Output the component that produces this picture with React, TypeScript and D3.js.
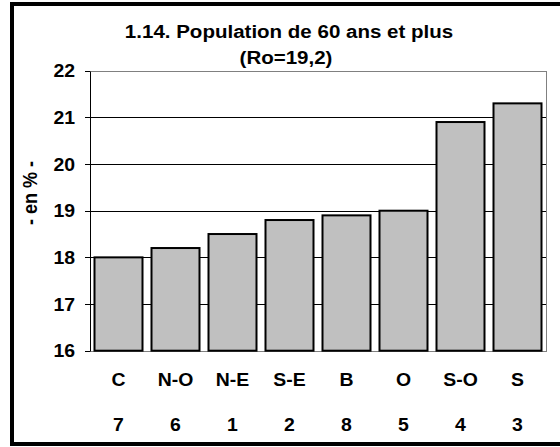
import React from "react";
import * as d3 from "d3";

const categories = ["C", "N-O", "N-E", "S-E", "B", "O", "S-O", "S"];
const ranks = ["7", "6", "1", "2", "8", "5", "4", "3"];
const values = [18.0, 18.2, 18.5, 18.8, 18.9, 19.0, 20.9, 21.3];
const yTicks = [16, 17, 18, 19, 20, 21, 22];
const titleLine1 = "1.14. Population de 60 ans et plus";
const titleLine2 = "(Ro=19,2)";
const yTitle = "- en % -";

const font = "'Liberation Sans', Arial, sans-serif";
const SX = 1.08;

function T({ x, y, anchor = "middle", size = 18, rotate = 0, children }: any) {
  return (
    <g transform={`translate(${x},${y}) scale(${SX},1)${rotate ? ` rotate(${rotate})` : ""}`}>
      <text x={0} y={0} textAnchor={anchor} fontFamily={font} fontWeight="bold" fontSize={size} fill="#000">{children}</text>
    </g>
  );
}

export default function App() {
  const W = 560, H = 447;
  const left = 90, right = 546, top = 70.7, bottom = 350.7;
  const x = d3.scaleBand<string>().domain(categories).range([left, right]).paddingInner(9 / 57).paddingOuter(4.5 / 57);
  const y = d3.scaleLinear().domain([16, 22]).range([bottom, top]);
  const py = (v: number) => Math.round(y(v)) + 0.5;
  return (
    <svg width={W} height={H} style={{ position: "absolute", left: 0, top: 0, background: "#fff" }}>
      <rect x={0} y={0} width={W} height={H} fill="#fff" />
      <rect x={12} y={4} width={W + 20} height={440} fill="none" stroke="#000" strokeWidth={4} />
      <T x={289} y={38} size={19}>{titleLine1}</T>
      <T x={286} y={64} size={19}>{titleLine2}</T>
      {/* grid */}
      {yTicks.filter(t => t > 16 && t < 22).map(t => (
        <line key={t} x1={left} x2={right} y1={py(t)} y2={py(t)} stroke="#000" strokeWidth={1} />
      ))}
      {/* plot border */}
      <rect x={left + 0.5} y={py(22)} width={right - left} height={py(16) - py(22)} fill="none" stroke="#808080" strokeWidth={1} />
      {/* y axis */}
      <line x1={left + 0.5} x2={left + 0.5} y1={py(22)} y2={py(16)} stroke="#000" strokeWidth={1} />
      {yTicks.map(t => (
        <g key={t}>
          <line x1={left - 5} x2={left} y1={py(t)} y2={py(t)} stroke="#000" strokeWidth={1} />
          <T x={75} y={y(t) + 6.5} anchor="end" size={18}>{t}</T>
        </g>
      ))}
      <T x={37} y={193} rotate={-90} size={18}>{yTitle}</T>
      {/* bars */}
      {categories.map((c, i) => (
        <rect key={c} x={x(c)!} y={y(values[i])} width={x.bandwidth()} height={bottom - y(values[i])} fill="#c0c0c0" stroke="#000" strokeWidth={2} />
      ))}
      {categories.map((c, i) => (
        <g key={c + "l"}>
          <T x={x(c)! + x.bandwidth() / 2} y={386} size={18}>{c}</T>
          <T x={x(c)! + x.bandwidth() / 2} y={431} size={18}>{ranks[i]}</T>
        </g>
      ))}
    </svg>
  );
}
